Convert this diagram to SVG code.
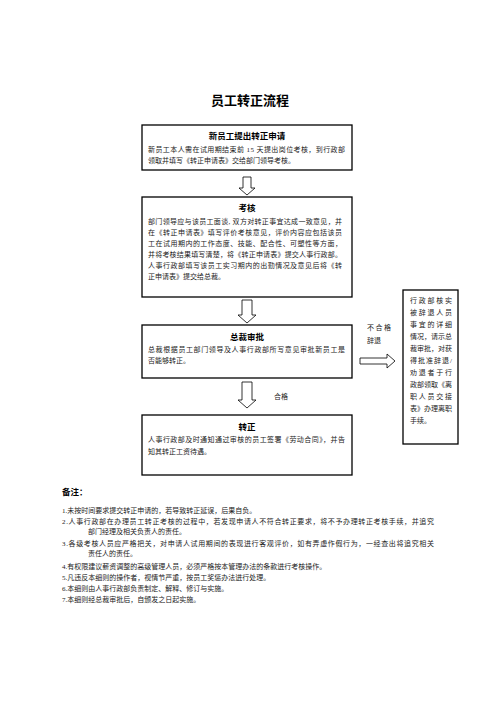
<svg xmlns="http://www.w3.org/2000/svg" width="496" height="702" viewBox="0 0 496 702">
<style>
.box{fill:#fff;stroke:#000;stroke-width:1.3}
.arr{fill:#fff;stroke:#000;stroke-width:0.8}
text{font-family:"Liberation Serif","Noto Sans CJK SC",serif;fill:#222}
.t{font-size:7px}
.h{font-size:8.5px;font-weight:bold;fill:#000;text-anchor:middle}
.title{font-size:13px;font-weight:bold;fill:#000;text-anchor:middle}
.n{font-size:7px}
</style>
<rect width="496" height="702" fill="#fff"/>
<text class="title" x="250" y="105">员工转正流程</text>

<g id="connectors">
<polygon class="arr" points="243,177 251,177 251,188 255,188 247,195 239,188 243,188"/>
<polygon class="arr" points="242,300 252,300 252,315 256,315 247,323 238,315 242,315"/>
<polygon class="arr" points="242,382 252,382 252,400 256,400 247,408 238,400 242,400"/>
<polygon class="arr" points="360,358 387,358 387,354 395,361 387,368 387,364 360,364"/>
<text class="t" x="274" y="399">合格</text>
<text class="t" x="367" y="330" textLength="24" lengthAdjust="spacing">不合格</text>
<text class="t" x="367" y="343">辞退</text>
</g>

<g id="node1">
<rect class="box" x="142" y="125" width="210" height="45"/>
<text class="h" x="247" y="139">新员工提出转正申请</text>
<text class="t" x="148" y="152" textLength="197" lengthAdjust="spacing">新员工本人需在试用期结束前 15 天提出岗位考核，到行政部</text>
<text class="t" x="148" y="163">领取并填写《转正申请表》交给部门领导考核。</text>
</g>

<g id="node2">
<rect class="box" x="142" y="197" width="210" height="100"/>
<text class="h" x="247" y="211">考核</text>
<text class="t" x="148" y="224" textLength="194" lengthAdjust="spacing">部门领导应与该员工面谈, 双方对转正事宜达成一致意见，并</text>
<text class="t" x="148" y="235" textLength="194" lengthAdjust="spacing">在《转正申请表》填写评价考核意见，评价内容应包括该员</text>
<text class="t" x="148" y="246" textLength="194" lengthAdjust="spacing">工在试用期内的工作态度、技能、配合性、可塑性等方面，</text>
<text class="t" x="148" y="257" textLength="194" lengthAdjust="spacing">并将考核结果填写清楚，将《转正申请表》提交人事行政部。</text>
<text class="t" x="148" y="268" textLength="194" lengthAdjust="spacing">人事行政部填写该员工实习期内的出勤情况及意见后将《转</text>
<text class="t" x="148" y="279">正申请表》提交给总裁。</text>
</g>

<g id="node3">
<rect class="box" x="142" y="325" width="210" height="53"/>
<text class="h" x="247" y="340">总裁审批</text>
<text class="t" x="148" y="352" textLength="197" lengthAdjust="spacing">总裁根据员工部门领导及人事行政部所写意见审批新员工是</text>
<text class="t" x="148" y="363">否能够转正。</text>
</g>

<g id="node4">
<rect class="box" x="142" y="415" width="210" height="60"/>
<text class="h" x="247" y="430">转正</text>
<text class="t" x="148" y="442" textLength="197" lengthAdjust="spacing">人事行政部及时通知通过审核的员工签署《劳动合同》，并告</text>
<text class="t" x="148" y="454">知其转正工资待遇。</text>
</g>

<g id="node5">
<rect class="box" x="403" y="290" width="55" height="154"/>
<text class="t" x="410" y="303" textLength="42" lengthAdjust="spacing">行政部核实</text>
<text class="t" x="410" y="315" textLength="42" lengthAdjust="spacing">被辞退人员</text>
<text class="t" x="410" y="327" textLength="42" lengthAdjust="spacing">事宜的详细</text>
<text class="t" x="410" y="339" textLength="42" lengthAdjust="spacing">情况，请示总</text>
<text class="t" x="410" y="351" textLength="42" lengthAdjust="spacing">裁审批，对获</text>
<text class="t" x="410" y="363" textLength="42" lengthAdjust="spacing">得批准辞退/</text>
<text class="t" x="410" y="375" textLength="42" lengthAdjust="spacing">劝退者于行</text>
<text class="t" x="410" y="387" textLength="42" lengthAdjust="spacing">政部领取《离</text>
<text class="t" x="410" y="399" textLength="42" lengthAdjust="spacing">职人员交接</text>
<text class="t" x="410" y="411" textLength="42" lengthAdjust="spacing">表》办理离职</text>
<text class="t" x="410" y="423">手续。</text>
</g>

<g id="notes">
<text x="62" y="495" style="font-size:8.5px;font-weight:bold;fill:#000">备注：</text>
<text class="n" x="62" y="513">1.未按时间要求提交转正申请的，若导致转正延误，后果自负。</text>
<text class="n" x="62" y="524" textLength="372" lengthAdjust="spacing">2.人事行政部在办理员工转正考核的过程中，若发现申请人不符合转正要求，将不予办理转正考核手续，并追究</text>
<text class="n" x="88" y="534">部门经理及相关负责人的责任。</text>
<text class="n" x="62" y="546" textLength="372" lengthAdjust="spacing">3.各级考核人员应严格把关，对申请人试用期间的表现进行客观评价，如有弄虚作假行为，一经查出将追究相关</text>
<text class="n" x="88" y="556">责任人的责任。</text>
<text class="n" x="62" y="569">4.有权限建议薪资调整的高级管理人员，必须严格按本管理办法的条款进行考核操作。</text>
<text class="n" x="62" y="580">5.凡违反本细则的操作者，视情节严重，按员工奖惩办法进行处理。</text>
<text class="n" x="62" y="591">6.本细则由人事行政部负责制定、解释、修订与实施。</text>
<text class="n" x="62" y="602">7.本细则经总裁审批后，自颁发之日起实施。</text>
</g>
</svg>
